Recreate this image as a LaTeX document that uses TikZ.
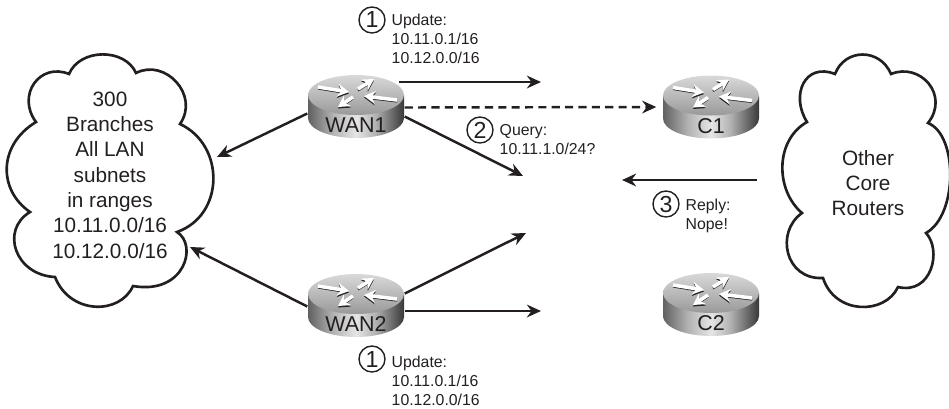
\documentclass[tikz,border=0pt]{standalone}
\usepackage{fontspec}
\usepackage{xcolor}
\setmainfont{Liberation Sans}
\usetikzlibrary{arrows.meta}

\definecolor{inkdark}{HTML}{231F20}
\pgfdeclarehorizontalshading{routerside}{100bp}{
  color(0bp)=(black!60); color(25bp)=(black!62); color(38bp)=(black!30);
  color(50bp)=(black!10); color(60bp)=(black!30); color(75bp)=(black!78); color(100bp)=(black!78)}

\tikzset{
  conn/.style={draw=inkdark, line width=0.7pt, -{Stealth[length=4pt,width=3.6pt]}},
  cloudline/.style={draw=inkdark, line width=0.75pt},
  bigtext/.style={text=inkdark, font=\fontsize{5.9}{7.2}\selectfont, align=center},
  smalltext/.style={text=inkdark, font=\fontsize{4.5}{5.4}\selectfont, align=left, anchor=north west, inner sep=0pt},
  stepnum/.style={circle, draw=inkdark, line width=0.4pt, text=inkdark, inner sep=0pt, minimum size=7.4pt,
    font=\fontsize{6.6}{6.6}\selectfont},
  routerbody/.style={text=inkdark, font=\fontsize{6.1}{6.2}\selectfont, minimum width=0.96cm, minimum height=0.63cm,
    inner sep=0pt, text height=14.8pt, text depth=0pt},
  router/.pic={
    \shade[shading=routerside] (-48,-11.5) -- (-48,11.5) arc[start angle=180,end angle=0,x radius=48,y radius=20]
      -- (48,-11.5) -- cycle;
    \shade[top color=black!15, bottom color=black!40] (0,-11.5) ellipse[x radius=48,y radius=20];
    \foreach \xa/\ya/\xb/\yb in {-38/-19.5/-7/-14.5, 41/-6.5/8/-10.5, 2/-17.5/18/-27.5, -3/-9.5/-18/0.5} {
      \draw[black!85, line width=0.6pt, -{Stealth[length=3.2pt,width=3.6pt]}] (\xa,\ya+1.5) -- (\xb,\yb+1.5);
      \draw[white, line width=1pt, -{Stealth[length=3.2pt,width=3.6pt]}] (\xa,\ya) -- (\xb,\yb);
    }
  }
}

\begin{document}
\begin{tikzpicture}[x=0.01cm,y=-0.01cm]
\useasboundingbox (0,0) rectangle (949,408);

% clouds
\draw[cloudline] (36,122) .. controls (16,95) and (40,62) .. (69,74)
  .. controls (80,48) and (125,48) .. (136,73)
  .. controls (165,58) and (200,95) .. (180,124)
  .. controls (225,145) and (225,215) .. (177,232)
  .. controls (198,245) and (185,295) .. (133,286)
  .. controls (120,315) and (70,315) .. (55,277)
  .. controls (15,275) and (0,230) .. (30,212)
  .. controls (-2,190) and (-2,145) .. (36,122) -- cycle;
\draw[cloudline] (807,122) .. controls (790,95) and (805,62) .. (835,74)
  .. controls (845,48) and (880,48) .. (891,74)
  .. controls (920,62) and (950,95) .. (928,123)
  .. controls (958,135) and (958,215) .. (926,233)
  .. controls (942,250) and (932,295) .. (898,287)
  .. controls (885,315) and (835,315) .. (823,278)
  .. controls (785,280) and (775,232) .. (802,213)
  .. controls (775,190) and (775,140) .. (807,122) -- cycle;
\node[bigtext] (branches) at (110,175) {300\\Branches\\All LAN\\subnets\\in ranges\\10.11.0.0/16\\10.12.0.0/16};
\node[bigtext] (core) at (868,183) {Other\\Core\\Routers};

% routers
\pic at (356,106.5) {router};
\pic at (356,305.5) {router};
\pic at (711,107) {router};
\pic at (711,304.5) {router};
\node[routerbody] (wan1) at (356,106.5) {WAN1};
\node[routerbody] (wan2) at (356,305.5) {WAN2};
\node[routerbody] (c1) at (711,107) {C1};
\node[routerbody] (c2) at (711,304.5) {C2};

% free ends
\coordinate (upd1) at (541,82);
\coordinate (upd2) at (541,311);
\coordinate (qry1) at (523,176);
\coordinate (qry2) at (526,233);
\coordinate (rep1) at (757,180);
\coordinate (rep2) at (622,180);
\coordinate (cloudup) at (217,157);
\coordinate (clouddn) at (190,247);

% connectors
\draw[conn] ([xshift=-0.06cm]wan1.north east |- upd1) -- (upd1);
\draw[conn, dashed, dash pattern=on 2.3pt off 1.5pt] ([yshift=-0.01cm]wan1.east) -- ([xshift=-0.06cm,yshift=0.0cm]c1.west);
\draw[conn] ([yshift=-0.1cm]wan1.east) -- (qry1);
\draw[conn] ([yshift=-0.07cm]wan1.west) -- (cloudup);
\draw[conn] ([yshift=-0.01cm]wan2.west) -- (clouddn);
\draw[conn] ([yshift=0.12cm]wan2.east) -- (qry2);
\draw[conn] (wan2.east |- upd2) -- (upd2);
\draw[conn] (rep1) -- (rep2);

% step labels
\node[stepnum] (n1) at (372,20) {1};
\node[smalltext] (t1) at (391,13.5) {Update:\\10.11.0.1/16\\10.12.0.0/16};
\node[stepnum] (n2) at (480,130) {2};
\node[smalltext] (t2) at (499,124) {Query:\\10.11.1.0/24?};
\node[stepnum] (n3) at (666,204) {3};
\node[smalltext] (t3) at (685,198.5) {Reply:\\Nope!};
\node[stepnum] (n4) at (372,359) {1};
\node[smalltext] (t4) at (391,355) {Update:\\10.11.0.1/16\\10.12.0.0/16};

\end{tikzpicture}
\end{document}
